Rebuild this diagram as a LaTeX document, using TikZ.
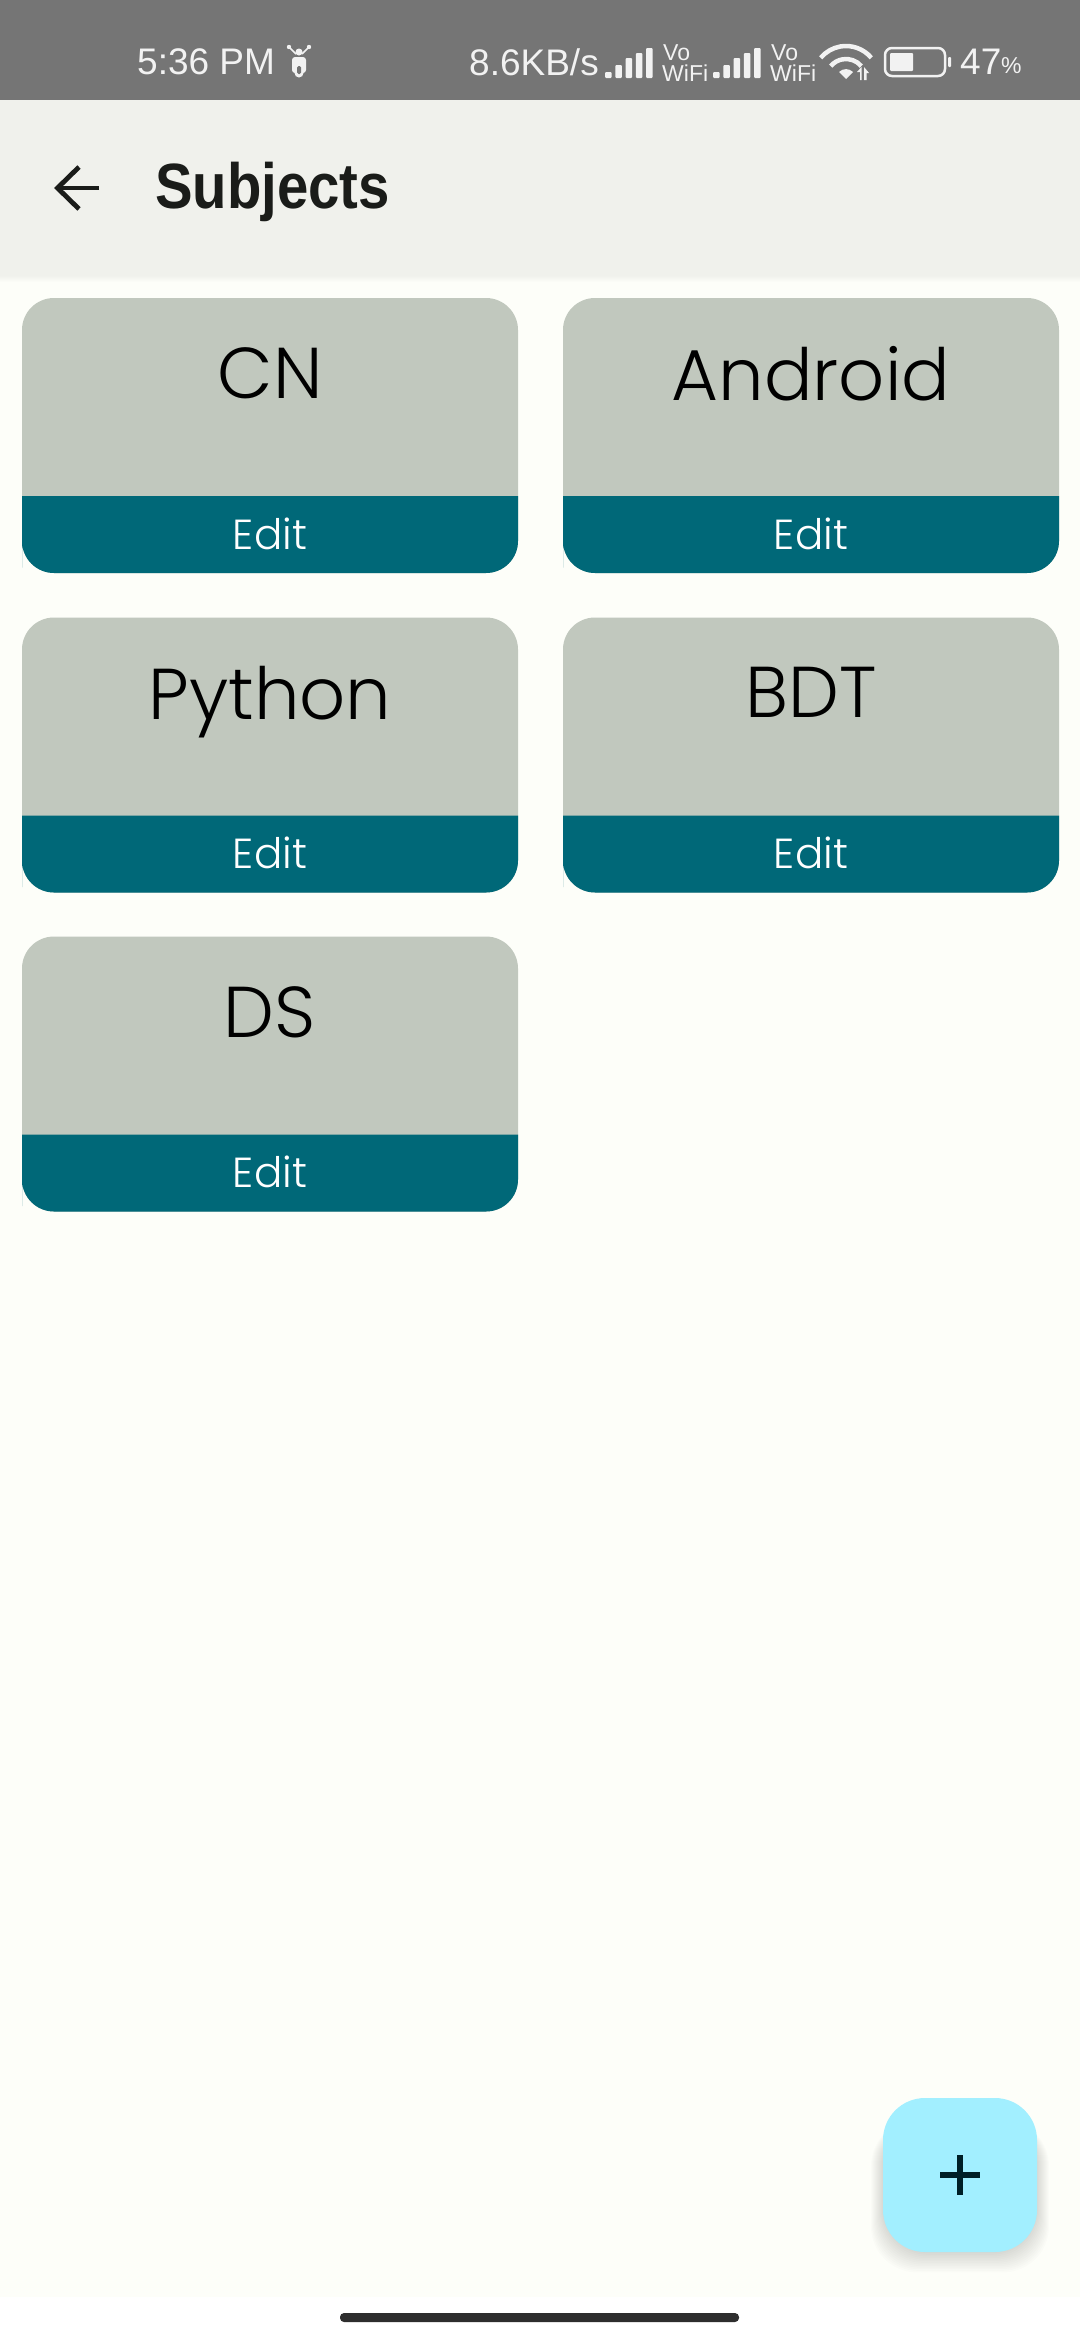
\documentclass[tikz,border=0pt]{standalone}
\usepackage{fontspec}
\setmainfont{Liberation Sans}
\newfontfamily\cardfont{Poppins}[UprightFont=* Light]
\usetikzlibrary{positioning,arrows.meta}
\definecolor{statusgray}{HTML}{757575}
\definecolor{statuswhite}{HTML}{F2F2F2}
\definecolor{barpaper}{HTML}{F0F1EC}
\definecolor{pagepaper}{HTML}{FDFEF9}
\definecolor{cardgray}{HTML}{C1C8BE}
\definecolor{editteal}{HTML}{006878}
\definecolor{fabblue}{HTML}{A2EFFF}
\definecolor{inkdark}{HTML}{1A1C19}
\definecolor{plusdark}{HTML}{001F26}
\begin{document}
\begin{tikzpicture}[x=1pt, y=1pt,
  status/.style={text=statuswhite, inner sep=0pt, font=\fontsize{37}{37}\selectfont},
  tinyfi/.style={text=statuswhite, inner sep=0pt, font=\fontsize{23}{23}\selectfont},
  cardbox/.style={fill=cardgray, rounded corners=32pt, minimum width=496pt, minimum height=275pt, inner sep=0pt},
  subject/.style={inner sep=0pt, text=black, font=\cardfont\fontsize{72}{72}\selectfont},
  edittext/.style={inner sep=0pt, text=white, font=\cardfont\fontsize{42}{42}\selectfont}]
\useasboundingbox (0,0) rectangle (1080,-2340);
\fill[white] (0,0) rectangle (1080,-2340);
\fill[pagepaper] (0,0) rectangle (1080,-2297);
% app bar
\foreach \i in {1,...,6} \fill[black, opacity=0.007] (0,-276) rectangle (1080,-276-\i);
\fill[barpaper] (0,-100) rectangle (1080,-276);
\fill[statusgray] (0,0) rectangle (1080,-100);
\node[status, anchor=west] (clock) at (137,-62) {5:36 PM};
\node[status, anchor=west] (speed) at (469,-62) {8.6KB/s};
\node[status, anchor=west] (level) at (960,-62) {47};
\node[tinyfi, anchor=west] (percent) at (1001,-66) {\%};
% scooter
\fill[statuswhite] (299,-52) circle (3.5pt);
\draw[statuswhite, line width=1.6pt] (290,-48) -- (296,-54) (308,-48) -- (302,-54);
\fill[statuswhite] (289,-47) circle (2.2pt) (309,-47) circle (2.2pt);
\fill[statuswhite, rounded corners=3pt] (292,-57) rectangle (306,-73);
\fill[statuswhite] (299,-73) circle (4.5pt);
\fill[statusgray, rounded corners=1.5pt] (297,-66) rectangle (301,-74);
% signal and wifi labels
\foreach \sx/\nm in {605/one,713/two} {
  \foreach \i/\bh in {0/6,1/13,2/20,3/25,4/30}
    \fill[statuswhite, rounded corners=1pt] (\sx+\i*10.3,-78) rectangle (\sx+\i*10.3+6.5,-78+\bh);
  \node[tinyfi, anchor=base west] (vo\nm) at (\sx+58,-60) {Vo};
  \node[tinyfi, anchor=base west] (wifi\nm) at (\sx+57,-81) {WiFi};
}
\foreach \r in {20,33}
  \draw[statuswhite, line width=4.5pt] (846,-79)+(40:\r) arc (40:140:\r);
\fill[statuswhite] (846,-79) -- ++(-7,7) arc (135:45:9.9) -- cycle;
\fill[statuswhite] (860,-80) -- (860,-72) -- (857,-72) -- (861.5,-67) -- (861.5,-80) -- cycle;
\fill[statuswhite] (864,-80) -- (864,-67) -- (869,-73) -- (866.5,-73) -- (866.5,-80) -- cycle;
% battery
\draw[statuswhite, line width=2.5pt, rounded corners=7pt] (885,-48) rectangle (945,-76);
\fill[statuswhite, rounded corners=1pt] (890,-53) rectangle (913,-71);
\fill[statuswhite, rounded corners=1pt] (948,-57) rectangle (951,-67);
% title
\node[inner sep=0pt, anchor=west, text=inkdark, xscale=0.88, font=\fontsize{64}{64}\selectfont\bfseries] (title) at (155,-192) {Subjects};
\draw[inkdark, line width=4.8pt] (99,-188) -- (57,-188);
\draw[inkdark, line width=4.8pt] (79,-167) -- (57.5,-188) -- (79,-209);
% cards
\foreach \cx/\cy/\nm/\lbl in {270/-435.5/cn/CN,811/-435.5/android/Android,270/-755/python/Python,811/-755/bdt/BDT,270/-1074/ds/DS} {
  \node[cardbox] (\nm) at (\cx,\cy) {};
  \fill[editteal] (\cx-248,\cy-60.5) -- (\cx+248,\cy-60.5) -- (\cx+248,\cy-100) [rounded corners=32pt] -- (\cx+248,\cy-137.5) -- (\cx-248,\cy-137.5) -- (\cx-248,\cy-100) [sharp corners] -- cycle;
  \node[subject] (\nm label) at (\cx,\cy+51.5) {\strut\lbl};
  \node[edittext] (\nm edit) at (\cx,\cy-104) {\strut Edit};
}
% add button
\foreach \i in {1,...,14}
  \fill[black, opacity=0.010, rounded corners=46pt] (885-\i,-2120) rectangle (1035+\i,-2250-1.6*\i);
\node[fill=fabblue, rounded corners=42pt, minimum size=154pt, inner sep=0pt] (fab) at (960,-2175) {};
\draw[plusdark, line width=5.5pt] (940,-2175) -- (980,-2175) (960,-2155) -- (960,-2195);
% home bar
\fill[black!82, rounded corners=4pt] (340,-2313) rectangle (739,-2322);
\end{tikzpicture}
\end{document}
